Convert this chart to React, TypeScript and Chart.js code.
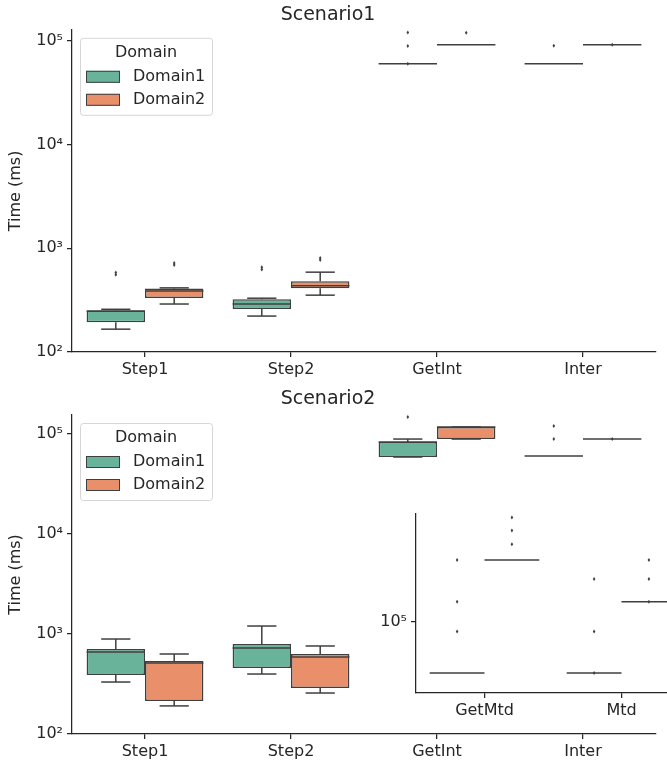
import React, { useEffect, useRef } from "react";
import { Chart, registerables } from "chart.js";

Chart.register(...registerables);

// ---------- data ----------
const categories = ["Step1", "Step2", "GetInt", "Inter"];
const insetCategories = ["GetMtd", "Mtd"];
const domainLabels = ["Domain1", "Domain2"];
const legendTitle = "Domain";
const yAxisTitle = "Time (ms)";
const mainTickValues = [100, 1000, 10000, 100000];
const insetTickValues = [100000];

// Scenario1 - Domain1
const s1d1Low = [166, 222, 60000, 60000];
const s1d1Q1 = [194, 259, 60000, 60000];
const s1d1Median = [247, 290, 60000, 60000];
const s1d1Q3 = [253, 323, 60000, 60000];
const s1d1High = [258, 330, 60000, 60000];
const s1d1Outliers = [[555, 585], [625, 655], [60000, 89000, 120000], [89300]];

// Scenario1 - Domain2
const s1d2Low = [290, 353, 91300, 91300];
const s1d2Q1 = [332, 412, 91300, 91300];
const s1d2Median = [388, 436, 91300, 91300];
const s1d2Q3 = [410, 481, 91300, 91300];
const s1d2High = [415, 588, 91300, 91300];
const s1d2Outliers = [[690, 720], [770, 805], [119000], [91300]];

// Scenario2 - Domain1
const s2d1Low = [331, 398, 58900, 60300];
const s2d1Q1 = [389, 457, 58900, 60300];
const s2d1Median = [661, 724, 83200, 60300];
const s2d1Q3 = [708, 794, 83200, 60300];
const s2d1High = [891, 1202, 89100, 60300];
const s2d1Outliers = [[], [], [148000], [89100, 120200]];

// Scenario2 - Domain2
const s2d2Low = [191, 257, 89100, 89100];
const s2d2Q1 = [214, 288, 89100, 89100];
const s2d2Median = [513, 589, 117500, 89100];
const s2d2Q3 = [537, 631, 117500, 89100];
const s2d2High = [631, 759, 117500, 89100];
const s2d2Outliers = [[], [], [], [89100]];

// Inset (GetMtd, Mtd)
const insetD1Level = [60000, 60000];
const insetD1Outliers = [[90600, 121800, 184000], [60000, 90600, 152700]];
const insetD2Level = [184000, 121800];
const insetD2Outliers = [[215500, 247000, 281000], [121800, 152700, 184000]];

// ---------- styles ----------
const FONT = "DejaVu Sans";
const TEXT = "#262626";
const EDGE = "#3f3f3f";
const domainColors = ["#68b39a", "#e98f6a"];

Chart.defaults.font.family = FONT;
Chart.defaults.color = TEXT;

type Stats = {
  low: number[];
  q1: number[];
  med: number[];
  q3: number[];
  high: number[];
  out: number[][];
};

const sup: Record<number, string> = { 0: "⁰", 1: "¹", 2: "²", 3: "³", 4: "⁴", 5: "⁵", 6: "⁶" };
const logLabel = (v: number) => "10" + sup[Math.round(Math.log10(v))];

const boxPlugin = {
  id: "boxExtras",
  afterDatasetsDraw(chart: any) {
    const ctx = chart.ctx as CanvasRenderingContext2D;
    const ys = chart.scales.y;
    chart.data.datasets.forEach((ds: any, di: number) => {
      const st: Stats = ds.stats;
      const meta = chart.getDatasetMeta(di);
      meta.data.forEach((bar: any, i: number) => {
        const x = bar.x;
        const w = bar.width;
        const py = (v: number) => ys.getPixelForValue(v);
        ctx.save();
        ctx.strokeStyle = EDGE;
        ctx.lineWidth = 1.5;
        const line = (x1: number, y1: number, x2: number, y2: number) => {
          ctx.beginPath();
          ctx.moveTo(x1, y1);
          ctx.lineTo(x2, y2);
          ctx.stroke();
        };
        const flat = st.q1[i] === st.q3[i];
        if (!flat) {
          if (st.high[i] > st.q3[i]) line(x, py(st.q3[i]), x, py(st.high[i]));
          line(x - w / 4, py(st.high[i]), x + w / 4, py(st.high[i]));
          if (st.low[i] < st.q1[i]) line(x, py(st.q1[i]), x, py(st.low[i]));
          line(x - w / 4, py(st.low[i]), x + w / 4, py(st.low[i]));
        }
        line(x - w / 2, py(st.med[i]), x + w / 2, py(st.med[i]));
        ctx.fillStyle = EDGE;
        (st.out[i] || []).forEach((v) => {
          const yy = py(v);
          ctx.beginPath();
          ctx.moveTo(x, yy - 2);
          ctx.lineTo(x + 1.3, yy);
          ctx.lineTo(x, yy + 2);
          ctx.lineTo(x - 1.3, yy);
          ctx.closePath();
          ctx.fill();
        });
        ctx.restore();
      });
    });
  },
};

const legendPlugin = {
  id: "domainLegend",
  afterDraw(chart: any) {
    const ctx = chart.ctx as CanvasRenderingContext2D;
    const a = chart.chartArea;
    const bx = a.left + 8;
    const by = a.top + 8;
    const bw = 132;
    const bh = 77;
    ctx.save();
    ctx.fillStyle = "rgba(255,255,255,0.85)";
    ctx.strokeStyle = "#d6d6d6";
    ctx.lineWidth = 1;
    ctx.beginPath();
    (ctx as any).roundRect(bx + 0.5, by + 0.5, bw, bh, 3);
    ctx.fill();
    ctx.stroke();
    ctx.fillStyle = TEXT;
    ctx.font = `16px "${FONT}"`;
    ctx.textAlign = "center";
    ctx.textBaseline = "middle";
    ctx.fillText(legendTitle, bx + bw / 2, by + 15);
    chart.data.datasets.forEach((ds: any, i: number) => {
      const cy = by + 39 + i * 23;
      ctx.fillStyle = ds.backgroundColor;
      ctx.fillRect(bx + 6, cy - 6, 34, 12);
      ctx.strokeStyle = EDGE;
      ctx.lineWidth = 1;
      ctx.strokeRect(bx + 6.5, cy - 5.5, 33, 11);
      ctx.fillStyle = TEXT;
      ctx.textAlign = "left";
      ctx.fillText(ds.label, bx + 53, cy);
    });
    ctx.restore();
  },
};

const whiteAreaPlugin = {
  id: "whiteArea",
  beforeDraw(chart: any) {
    const a = chart.chartArea;
    const ctx = chart.ctx as CanvasRenderingContext2D;
    ctx.save();
    ctx.fillStyle = "#ffffff";
    ctx.fillRect(a.left, a.top, a.right - a.left, a.bottom - a.top);
    ctx.restore();
  },
};

type Cfg = {
  labels: string[];
  stats: Stats[];
  yMin: number;
  yMax: number;
  yTicks: number[];
  title?: string;
  titlePad?: { top: number; bottom: number };
  yTitle?: string;
  legend: boolean;
  yWidth: number;
  xHeight: number;
  padding: { left: number; right: number; top: number; bottom: number };
};

function buildConfig(c: Cfg): any {
  const axisGrid = {
    drawOnChartArea: false,
    drawTicks: true,
    tickLength: 5,
    color: TEXT,
    lineWidth: 1.25,
    offset: false,
  };
  return {
    type: "bar",
    data: {
      labels: c.labels,
      datasets: c.stats.map((st, di) => ({
        label: domainLabels[di],
        data: c.labels.map((_, i) => [st.q1[i], st.q3[i]]),
        stats: st,
        backgroundColor: domainColors[di],
        borderColor: EDGE,
        borderWidth: 1.5,
        borderSkipped: false,
        categoryPercentage: 0.8,
        barPercentage: 1.0,
      })),
    },
    options: {
      animation: false,
      responsive: false,
      devicePixelRatio: 1,
      events: [],
      layout: { padding: c.padding },
      plugins: {
        legend: { display: false },
        tooltip: { enabled: false },
        title: c.title
          ? {
              display: true,
              text: c.title,
              color: TEXT,
              font: { family: FONT, size: 19, weight: "normal" },
              padding: c.titlePad,
            }
          : { display: false },
      },
      scales: {
        x: {
          type: "category",
          offset: true,
          grid: axisGrid,
          border: { display: true, color: TEXT, width: 1.25 },
          ticks: { font: { family: FONT, size: 16 }, color: TEXT, padding: 3, maxRotation: 0, autoSkip: false },
          afterFit: (s: any) => {
            s.height = c.xHeight;
          },
        },
        y: {
          type: "logarithmic",
          min: c.yMin,
          max: c.yMax,
          grid: axisGrid,
          border: { display: true, color: TEXT, width: 1.25 },
          ticks: {
            font: { family: FONT, size: 16 },
            color: TEXT,
            padding: 4,
            autoSkip: false,
            callback: (v: any) => logLabel(Number(v)),
          },
          afterBuildTicks: (s: any) => {
            s.ticks = c.yTicks.map((v) => ({ value: v }));
          },
          afterFit: (s: any) => {
            s.width = c.yWidth;
          },
          title: c.yTitle
            ? { display: true, text: c.yTitle, color: TEXT, font: { family: FONT, size: 16 }, padding: { top: 6, bottom: 0 } }
            : { display: false },
        },
      },
    },
    plugins: c.legend ? [whiteAreaPlugin, boxPlugin, legendPlugin] : [whiteAreaPlugin, boxPlugin],
  };
}

function ChartCanvas(props: { cfg: () => any; left: number; top: number; width: number; height: number }) {
  const ref = useRef<HTMLCanvasElement>(null);
  useEffect(() => {
    const chart = new Chart(ref.current as HTMLCanvasElement, props.cfg());
    return () => chart.destroy();
  }, []);
  return (
    <canvas
      ref={ref}
      width={props.width}
      height={props.height}
      style={{ position: "absolute", left: props.left, top: props.top, width: props.width, height: props.height }}
    />
  );
}

const flatStats = (level: number[], out: number[][]): Stats => ({
  low: level,
  q1: level,
  med: level,
  q3: level,
  high: level,
  out,
});

export default function App() {
  const top = () =>
    buildConfig({
      labels: categories,
      stats: [
        { low: s1d1Low, q1: s1d1Q1, med: s1d1Median, q3: s1d1Q3, high: s1d1High, out: s1d1Outliers },
        { low: s1d2Low, q1: s1d2Q1, med: s1d2Median, q3: s1d2Q3, high: s1d2High, out: s1d2Outliers },
      ],
      yMin: 100,
      yMax: 127400,
      yTicks: mainTickValues,
      title: "Scenario1",
      titlePad: { top: 4, bottom: 3 },
      yTitle: yAxisTitle,
      legend: true,
      yWidth: 72,
      xHeight: 28,
      padding: { left: 0, right: 11, top: 0, bottom: 0 },
    });
  const bottom = () =>
    buildConfig({
      labels: categories,
      stats: [
        { low: s2d1Low, q1: s2d1Q1, med: s2d1Median, q3: s2d1Q3, high: s2d1High, out: s2d1Outliers },
        { low: s2d2Low, q1: s2d2Q1, med: s2d2Median, q3: s2d2Q3, high: s2d2High, out: s2d2Outliers },
      ],
      yMin: 100,
      yMax: 155000,
      yTicks: mainTickValues,
      title: "Scenario2",
      titlePad: { top: 6.6, bottom: 4.6 },
      yTitle: yAxisTitle,
      legend: true,
      yWidth: 72,
      xHeight: 28,
      padding: { left: 0, right: 11, top: 0, bottom: 0 },
    });
  const inset = () =>
    buildConfig({
      labels: insetCategories,
      stats: [flatStats(insetD1Level, insetD1Outliers), flatStats(insetD2Level, insetD2Outliers)],
      yMin: 49200,
      yMax: 292000,
      yTicks: insetTickValues,
      legend: false,
      yWidth: 46,
      xHeight: 32,
      padding: { left: 0, right: 10, top: 12, bottom: 0 },
    });
  return (
    <div
      style={{
        position: "fixed",
        left: 0,
        top: 0,
        width: 667,
        height: 762,
        overflow: "hidden",
        background: "#ffffff",
      }}
    >
      <ChartCanvas cfg={top} left={0} top={0} width={667} height={380} />
      <ChartCanvas cfg={bottom} left={0} top={381} width={667} height={381} />
      <ChartCanvas cfg={inset} left={370} top={500} width={330} height={225} />
    </div>
  );
}
